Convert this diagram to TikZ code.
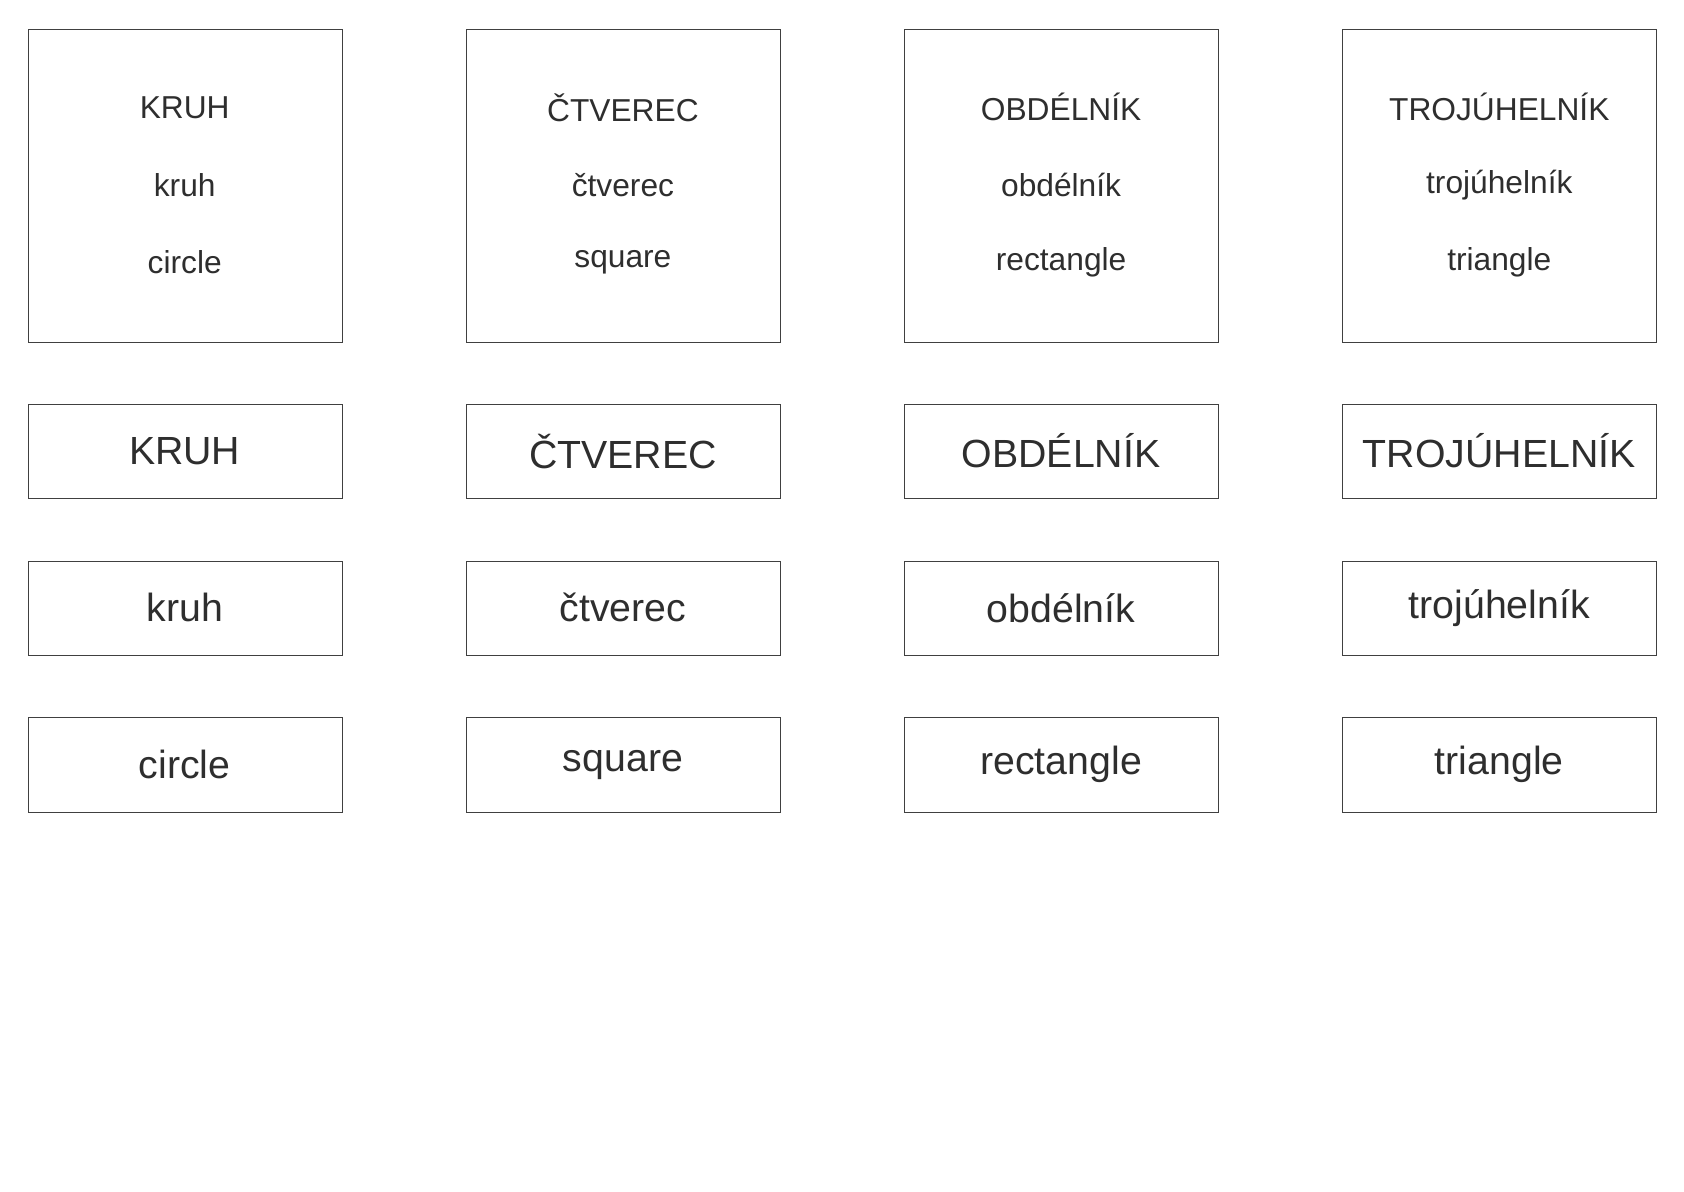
\documentclass[tikz,border=0pt]{standalone}
\usepackage{fontspec}
\setmainfont{Liberation Sans}
\begin{document}
\begin{tikzpicture}[x=0.025cm,y=-0.025cm,
 card/.style={draw=black!75,line width=0.6pt,inner sep=0,anchor=north west},
 big/.style={text=black!82,font=\fontsize{26}{30}\selectfont},
 sm/.style={text=black!82,font=\fontsize{21}{25}\selectfont}]
\useasboundingbox (0,0) rectangle (1568,1109);
\foreach \i/\U/\l/\e [count=\k from 0] in {KRUH/kruh/circle, ČTVEREC/čtverec/square, OBDÉLNÍK/obdélník/rectangle, TROJÚHELNÍK/trojúhelník/triangle}{
 \pgfmathsetmacro\x{26+408*\k}
 \node[card,minimum width=292*0.025cm,minimum height=291*0.025cm] (t\k) at (\x,27) {};
 \node[sm] (tu\k) at (\x+146,100) {\i};
 \node[sm] (tl\k) at (\x+146,172) {\U};
 \node[sm] (te\k) at (\x+146,244) {\l};
 \node[card,minimum width=292*0.025cm,minimum height=88*0.025cm] (a\k) at (\x,376) {};
 \node[big] (au\k) at (\x+146,420) {\i};
 \node[card,minimum width=292*0.025cm,minimum height=88*0.025cm] (b\k) at (\x,522) {};
 \node[big] (bu\k) at (\x+146,566) {\U};
 \node[card,minimum width=292*0.025cm,minimum height=88*0.025cm] (c\k) at (\x,668) {};
 \node[big] (cu\k) at (\x+146,712) {\l};
}
\end{tikzpicture}
\end{document}
